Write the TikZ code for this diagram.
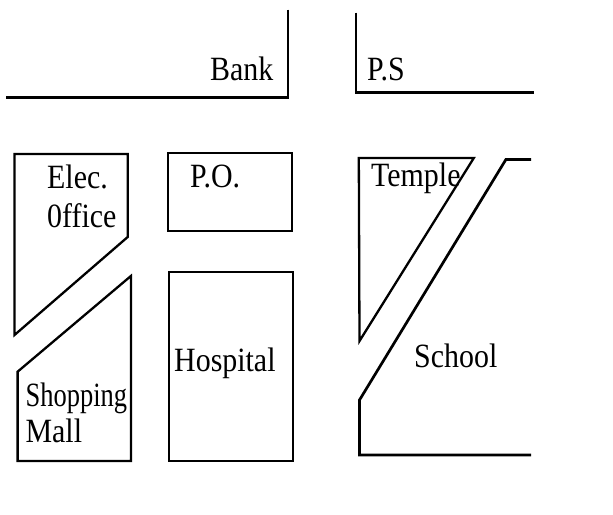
\documentclass[tikz,border=0pt]{standalone}
\usepackage{fontspec}
\newfontfamily\mapfont[FakeStretch=0.88]{Liberation Serif}
\tikzset{
  road/.style={line width=2.7pt, line cap=butt, line join=miter},
  bldg/.style={line width=2.3pt, line join=miter},
  lbl/.style={anchor=base west, inner sep=0pt, font=\mapfont\fontsize{34}{37}\selectfont}
}
\begin{document}
\begin{tikzpicture}[x=1pt,y=-1pt]
\useasboundingbox (0,0) rectangle (613,514);
% roads / edges
\draw[road] (6,97.5) -- (289,97.5);
\draw[road] (288,9.5) -- (288,98.8);
\draw[road] (356,12.5) -- (356,92.7) -- (534,92.7);
% Elec office
\draw[bldg] (14.5,154) -- (127.7,154) -- (127.7,237) -- (14.5,335) -- cycle;
% P.O.
\draw[bldg] (168,153.3) rectangle (292,231);
% Temple
\draw[bldg] (358.8,158) -- (473.8,158) -- (359.5,341) -- cycle;
% School
\draw[road] (531,159.5) -- (505.9,159.5) -- (359.5,400) -- (359.5,455) -- (531,455);
% Shopping Mall
\draw[bldg] (17.6,371.7) -- (130.9,276) -- (130.9,461) -- (17.6,461) -- cycle;
% Hospital
\draw[bldg] (168.75,272) rectangle (293,461);
% labels
\node[lbl] (bank) at (210,80.5) {Bank};
\node[lbl] (ps) at (367,80.5) {P.S};
\node[lbl] (elec) at (47,188) {Elec.};
\node[lbl] (office) at (47,227) {0ffice};
\node[lbl] (po) at (190,187.3) {P.O.};
\node[lbl] (temple) at (371,186.7) {Temple};
\node[lbl] (school) at (414,367.3) {School};
\node[lbl] (hospital) at (174,371.7) {Hospital};
\node[lbl] (shopping) at (25.4,406) {\scalebox{0.885}[1]{Shopping}};
\node[lbl] (mall) at (25.4,442.7) {Mall};
\end{tikzpicture}
\end{document}
